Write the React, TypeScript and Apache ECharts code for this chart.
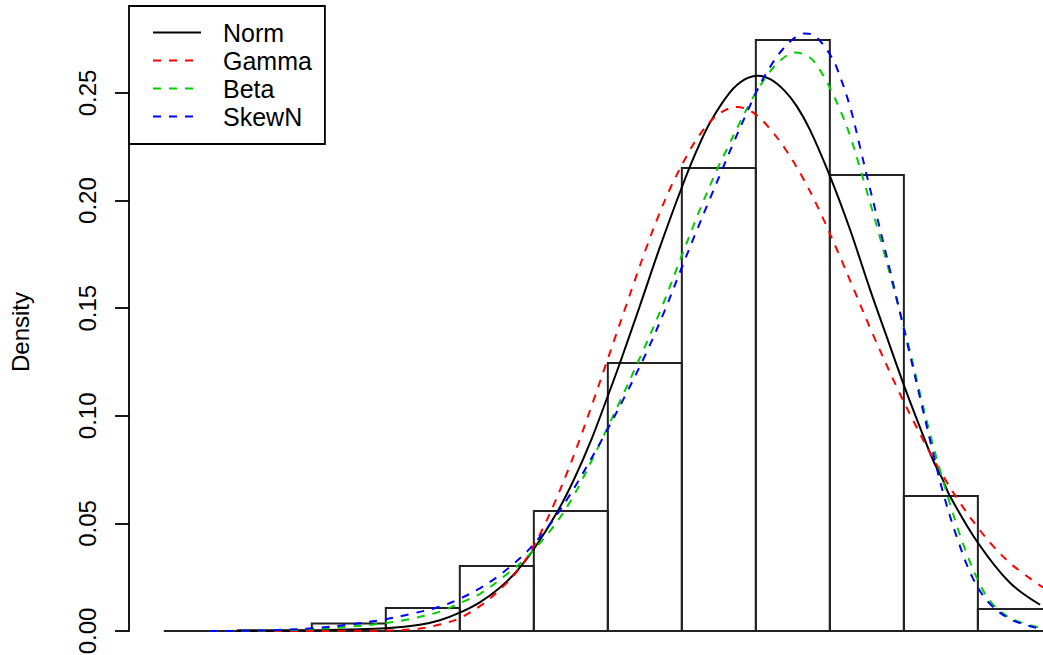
import React, { useEffect, useRef } from "react";
import * as echarts from "echarts";

// Histogram (density scale, bin width 1)
const binStarts = [0, 1, 2, 3, 4, 5, 6, 7, 8, 9, 10, 11];
const binWidth = 1;
const binDensity = [0, 0.0004, 0.0035, 0.0107, 0.0302, 0.0558, 0.1245, 0.2151, 0.2746, 0.2119, 0.0627, 0.0102];

// Fitted density curves
const normX = [1.0, 2.0, 2.51, 3.0, 3.46, 3.73, 4.0, 4.27, 4.54, 4.77, 5.0, 5.32, 5.55, 5.78, 6.0, 6.16, 6.43, 6.7, 7.0, 7.2, 7.38, 7.65, 7.85, 8.03, 8.2, 8.39, 8.55, 8.73, 9.0, 9.27, 9.54, 9.75, 9.99, 10.18, 10.4, 10.53, 10.62, 11.0, 11.43, 11.84];
const normY = [0, 0.0003, 0.0007, 0.0013, 0.0029, 0.005, 0.0085, 0.0133, 0.0201, 0.0278, 0.038, 0.0555, 0.071, 0.0892, 0.1092, 0.1242, 0.1508, 0.178, 0.2062, 0.2232, 0.2362, 0.2503, 0.2563, 0.258, 0.2563, 0.251, 0.244, 0.233, 0.2115, 0.1868, 0.159, 0.1385, 0.1152, 0.098, 0.079, 0.07, 0.0628, 0.041, 0.0225, 0.0122];

const gammaX = [0.62, 1.84, 2.5, 3.0, 3.46, 3.73, 4.0, 4.31, 4.58, 4.77, 4.95, 5.12, 5.28, 5.46, 5.62, 5.8, 5.96, 6.09, 6.23, 6.36, 6.53, 6.68, 6.84, 7.07, 7.24, 7.47, 7.74, 7.96, 8.19, 8.42, 8.64, 8.86, 9.14, 9.31, 9.58, 9.91, 10.12, 10.35, 10.58, 10.76, 10.99, 11.2, 11.47, 11.88];
const gammaY = [0, 0, 0.0001, 0.0002, 0.0012, 0.003, 0.006, 0.0125, 0.0205, 0.0275, 0.0365, 0.0475, 0.0595, 0.0745, 0.089, 0.1065, 0.1225, 0.1355, 0.1495, 0.1625, 0.179, 0.1925, 0.2055, 0.221, 0.2305, 0.2395, 0.2435, 0.241, 0.2334, 0.2228, 0.2103, 0.1953, 0.1737, 0.1599, 0.138, 0.1129, 0.0982, 0.083, 0.0692, 0.0595, 0.0485, 0.0397, 0.0305, 0.0202];

const betaX = [0.62, 1.3, 2.01, 2.51, 3.0, 3.32, 3.73, 4.0, 4.27, 4.64, 4.85, 5.04, 5.22, 5.35, 5.49, 5.62, 5.8, 5.92, 6.16, 6.46, 6.73, 7.0, 7.24, 7.47, 7.61, 7.78, 7.96, 8.15, 8.32, 8.53, 8.73, 8.86, 9.0, 9.14, 9.27, 9.43, 9.54, 9.64, 9.72, 9.81, 9.91, 10.01, 10.08, 10.22, 10.35, 10.49, 10.62, 10.8, 11.03, 11.2, 11.47, 11.88];
const betaY = [0, 0.0002, 0.0009, 0.002, 0.0037, 0.0055, 0.009, 0.013, 0.0172, 0.0265, 0.0325, 0.0392, 0.0465, 0.0525, 0.06, 0.068, 0.0805, 0.089, 0.1065, 0.129, 0.1505, 0.1745, 0.1955, 0.214, 0.224, 0.236, 0.2478, 0.258, 0.2648, 0.2688, 0.2665, 0.261, 0.2525, 0.242, 0.2305, 0.2125, 0.1995, 0.1875, 0.1775, 0.166, 0.153, 0.1398, 0.1305, 0.11, 0.092, 0.0745, 0.0595, 0.0405, 0.0215, 0.0125, 0.0055, 0.0012];

const skewX = [0.62, 1.3, 2.01, 2.51, 3.0, 3.32, 3.73, 4.0, 4.27, 4.5, 4.72, 4.91, 5.04, 5.18, 5.31, 5.45, 5.59, 5.73, 5.93, 6.23, 6.53, 6.77, 7.0, 7.2, 7.4, 7.55, 7.69, 7.88, 8.05, 8.19, 8.32, 8.46, 8.56, 8.66, 8.76, 8.86, 9.0, 9.09, 9.27, 9.41, 9.5, 9.64, 9.72, 9.81, 9.91, 9.97, 10.08, 10.22, 10.39, 10.53, 10.72, 10.93, 11.16, 11.47, 11.88];
const skewY = [0, 0.0002, 0.0013, 0.003, 0.0055, 0.0078, 0.0113, 0.015, 0.0198, 0.025, 0.031, 0.037, 0.042, 0.0478, 0.054, 0.0612, 0.069, 0.0773, 0.0895, 0.109, 0.13, 0.149, 0.169, 0.186, 0.2025, 0.2148, 0.2262, 0.241, 0.2535, 0.262, 0.2685, 0.2738, 0.2764, 0.2777, 0.2772, 0.2745, 0.268, 0.262, 0.244, 0.2245, 0.2115, 0.192, 0.1808, 0.168, 0.1535, 0.1447, 0.1288, 0.1082, 0.0835, 0.0643, 0.0432, 0.0247, 0.0127, 0.005, 0.0008];

const yTickValues = [0, 0.05, 0.1, 0.15, 0.2, 0.25];
const yTickLabels = ["0.00", "0.05", "0.10", "0.15", "0.20", "0.25"];
const seriesNames = ["Norm", "Gamma", "Beta", "SkewN"];
const yAxisTitle = "Density";

const FONT = "'Liberation Sans', Arial, Helvetica, sans-serif";

function zip(xs: number[], ys: number[]) {
  return xs.map((x, i) => [x, ys[i]]);
}

export default function App() {
  const ref = useRef<HTMLDivElement>(null);

  useEffect(() => {
    document.body.style.margin = "0";
    document.body.style.overflow = "hidden";
    if (!ref.current) return;
    const chart = echarts.init(ref.current, null, { renderer: "svg" });

    const histData = binStarts.map((s, i) => [s, s + binWidth, binDensity[i]]);

    const lineSeries = (name: string, data: number[][], color: string, dashed: boolean) => ({
      name,
      type: "line",
      data,
      symbol: "none",
      showSymbol: false,
      smooth: 0.35,
      clip: false,
      z: 3,
      lineStyle: {
        color,
        width: 2,
        type: dashed ? [8, 8] : "solid",
      },
      itemStyle: { color },
      emphasis: { disabled: true },
    });

    chart.setOption({
      animation: false,
      backgroundColor: "#ffffff",
      grid: { left: 129, top: 93, right: 0, bottom: 24, outerBoundsMode: "none" },
      xAxis: { type: "value", min: -0.47, max: 11.88, show: false },
      yAxis: {
        type: "value",
        min: 0,
        max: 0.25,
        interval: 0.05,
        position: "left",
        axisLine: { show: true, onZero: false, lineStyle: { color: "#000", width: 1.8 } },
        axisTick: { show: true, length: 14, lineStyle: { color: "#000", width: 1.8 } },
        axisLabel: {
          rotate: 90,
          margin: 30,
          fontSize: 24,
          fontFamily: FONT,
          color: "#000",
          formatter: (v: number) => {
            const i = yTickValues.findIndex((t) => Math.abs(t - v) < 1e-9);
            return i >= 0 ? yTickLabels[i] : v.toFixed(2);
          },
        },
        splitLine: { show: false },
        name: yAxisTitle,
        nameLocation: "middle",
        nameRotate: 90,
        nameGap: 97,
        nameTextStyle: { fontSize: 24, fontFamily: FONT, color: "#000", padding: [0, 0, 0, 60] },
      },
      legend: {
        data: seriesNames,
        left: 129,
        top: 6,
        orient: "vertical",
        itemWidth: 48,
        itemHeight: 14,
        itemGap: 3,
        padding: [14, 13, 15, 23],
        borderColor: "#000",
        borderWidth: 1.8,
        borderRadius: 0,
        backgroundColor: "#fff",
        selectedMode: false,
        itemStyle: { color: "rgba(0,0,0,0)", borderWidth: 0, opacity: 0 },
        textStyle: { fontSize: 25, fontFamily: FONT, color: "#000", padding: [0, 0, 0, 17] },
      },
      series: [
        {
          type: "custom",
          name: "hist",
          data: histData,
          clip: false,
          z: 1,
          silent: true,
          renderItem: (_params: any, api: any) => {
            const x0 = api.value(0);
            const x1 = api.value(1);
            const h = api.value(2);
            const a = api.coord([x0, 0]);
            const b = api.coord([x0, h]);
            const c = api.coord([x1, h]);
            const d = api.coord([x1, 0]);
            return {
              type: "polygon",
              shape: { points: [a, b, c, d] },
              style: { fill: "none", stroke: "#222", lineWidth: 2 },
            };
          },
        },
        lineSeries(seriesNames[0], zip(normX, normY), "#000000", false),
        lineSeries(seriesNames[1], zip(gammaX, gammaY), "#ff0000", true),
        lineSeries(seriesNames[2], zip(betaX, betaY), "#00cd00", true),
        lineSeries(seriesNames[3], zip(skewX, skewY), "#0000ff", true),
      ],
    });

    return () => chart.dispose();
  }, []);

  return <div ref={ref} style={{ width: 1043, height: 655 }} />;
}
